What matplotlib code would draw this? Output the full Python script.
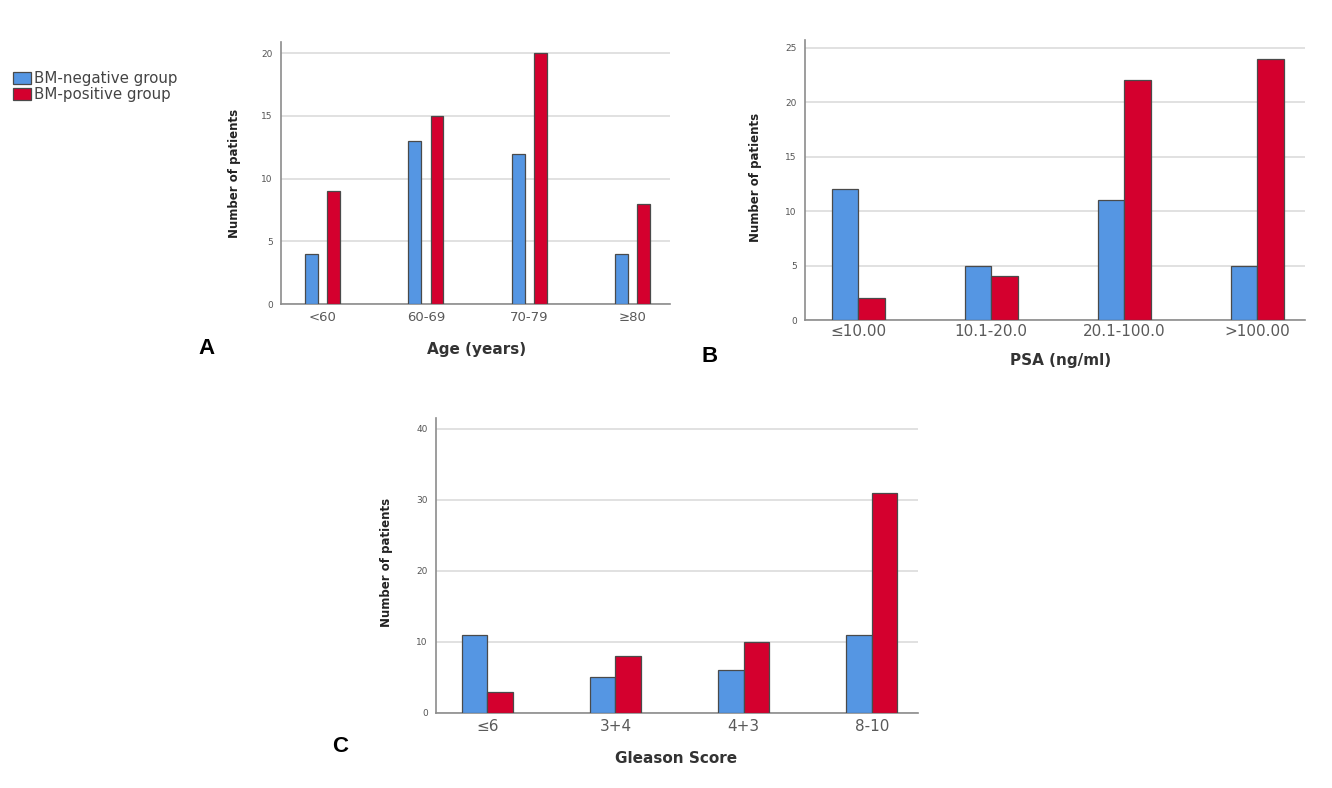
import matplotlib
matplotlib.use('Agg')
import matplotlib.pyplot as plt
from matplotlib.patches import Patch

plt.rcParams['font.family'] = ['DejaVu Sans']

# 数据
age_labels = ['<60', '60-69', '70-79', '≥80']
age_neg = [4, 13, 12, 4]
age_pos = [9, 15, 20, 8]

psa_labels = ['≤10.00', '10.1-20.0', '20.1-100.0', '>100.00']
psa_neg = [12, 5, 11, 5]
psa_pos = [2, 4, 22, 24]

gleason_labels = ['≤6', '3+4', '4+3', '8-10']
gleason_neg = [11, 5, 6, 11]
gleason_pos = [3, 8, 10, 31]

group_names = ['BM-negative group', 'BM-positive group']

BLUE = '#5596E3'
RED = '#D4002E'
EDGE = '#4a4a4a'
GRID = '#dcdcdc'
SPINE = '#8c8c8c'

W, H = 1332, 788
fig = plt.figure(figsize=(W / 100, H / 100), dpi=100)


def px_rect(left, top, right, bottom):
    """像素坐标 -> figure 坐标"""
    return [left / W, 1 - bottom / H, (right - left) / W, (bottom - top) / H]


def draw_panel(rect, labels, neg, pos, yticks, ytop, width, offset,
               xlabel, xl_pos, yl_pos, tick_fs, tick_pad):
    ax = fig.add_axes(rect)
    x = list(range(len(labels)))
    ax.bar([i - offset for i in x], neg, width=width, color=BLUE,
           edgecolor=EDGE, linewidth=0.9, zorder=3)
    ax.bar([i + offset for i in x], pos, width=width, color=RED,
           edgecolor=EDGE, linewidth=0.9, zorder=3)
    ax.set_xlim(-0.4, 3.36)
    ax.set_ylim(0, ytop)
    ax.set_yticks(yticks)
    ax.set_xticks(x)
    ax.set_xticklabels(labels)
    for t in ax.get_yticklabels():
        t.set_fontsize(6.5)
        t.set_color('#555555')
    for t in ax.get_xticklabels():
        t.set_fontsize(tick_fs)
        t.set_color('#5a5a5a')
    ax.tick_params(axis='both', length=0)
    ax.tick_params(axis='y', pad=6)
    ax.tick_params(axis='x', pad=tick_pad)
    ax.yaxis.grid(True, color=GRID, linewidth=1.2, zorder=0)
    ax.set_axisbelow(True)
    for s in ['top', 'right']:
        ax.spines[s].set_visible(False)
    for s in ['left', 'bottom']:
        ax.spines[s].set_color(SPINE)
        ax.spines[s].set_linewidth(1.2)
    ax.set_ylabel('Number of patients', fontsize=8.5, fontweight='bold',
                  color='#222222')
    ax.yaxis.set_label_coords(*yl_pos)
    ax.set_xlabel(xlabel, fontsize=11, fontweight='bold', color='#333333')
    ax.xaxis.set_label_coords(*xl_pos)
    return ax


# A: 年龄
draw_panel(px_rect(281, 42, 670, 304), age_labels, age_neg, age_pos,
           [0, 5, 10, 15, 20], 20.9, 0.125, 0.108,
           'Age (years)', (0.504, -0.145), (-0.103, 0.5), 9.5, 5)

# B: PSA
draw_panel(px_rect(805, 40, 1305, 320), psa_labels, psa_neg, psa_pos,
           [0, 5, 10, 15, 20, 25], 25.7, 0.2, 0.1,
           'PSA (ng/ml)', (0.512, -0.118), (-0.086, 0.51), 11, 3)

# C: Gleason
draw_panel(px_rect(436, 418, 918, 713), gleason_labels, gleason_neg, gleason_pos,
           [0, 10, 20, 30, 40], 41.5, 0.2, 0.1,
           'Gleason Score', (0.498, -0.129), (-0.09, 0.51), 11, 4.5)

# 面板字母
for letter, px, py in [('A', 198, 349), ('B', 702, 357), ('C', 332, 747)]:
    fig.text(px / W, 1 - py / H, letter, fontsize=16, fontweight='bold',
             family='Liberation Sans', ha='left', va='center')

# 图例
handles = [Patch(facecolor=BLUE, edgecolor=EDGE, linewidth=0.9),
           Patch(facecolor=RED, edgecolor=EDGE, linewidth=0.9)]
leg = fig.legend(handles, group_names, loc='upper left',
                 bbox_to_anchor=(13 / W, 1 - 71 / H), frameon=False,
                 fontsize=10.8, handlelength=1.2, handleheight=0.85,
                 handletextpad=0.2, labelspacing=0.08, borderpad=0,
                 borderaxespad=0)
for t in leg.get_texts():
    t.set_color('#444444')

fig.savefig('out.png', dpi=100)
plt.close(fig)
